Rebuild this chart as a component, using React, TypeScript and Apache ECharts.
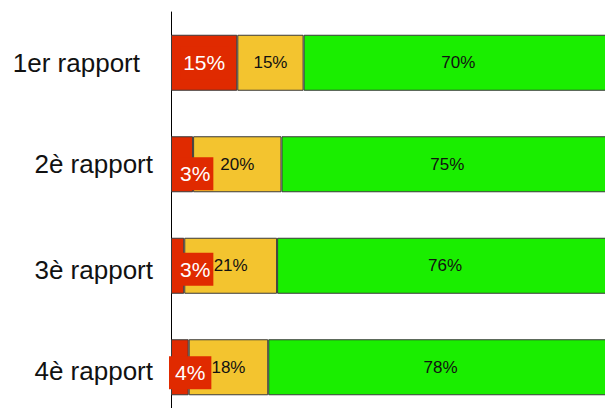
import React, { useEffect, useRef } from "react";
import * as echarts from "echarts";

const categories = ["1er rapport", "2è rapport", "3è rapport", "4è rapport"];
const redValues = [15, 5, 3, 4];
const redLabels = ["15%", "3%", "3%", "4%"];
const yellowValues = [15, 20, 21, 18];
const yellowLabels = ["15%", "20%", "21%", "18%"];
const greenValues = [70, 75, 76, 78];
const greenLabels = ["70%", "75%", "76%", "78%"];

const RED = "#e02a00";
const YELLOW = "#f3c42f";
const GREEN = "#1aee00";
const redLabelPos: any[] = ["inside", [6, 21], [6, 15], [-2, 17]];
const redLabelPad: any[] = [[6, 3], [6, 3], [6, 3], [6, 6]];

export default function App() {
  const ref = useRef<HTMLDivElement>(null);
  useEffect(() => {
    if (!ref.current) return;
    const chart = echarts.init(ref.current, undefined, { renderer: "svg" });
    const font = "Liberation Sans, Arial, sans-serif";
    const border = { borderColor: "#3a3a3a", borderWidth: 1 };
    const lab = (pad: number[]) => ({ fontFamily: font, fontSize: 26, color: "#111", padding: pad });
    chart.setOption({
      animation: false,
      grid: { left: 171, top: 12, width: 442, height: 406 },
      xAxis: { type: "value", min: 0, max: 100, show: false },
      yAxis: {
        type: "category",
        inverse: true,
        data: categories,
        axisLine: { show: true, lineStyle: { color: "#000", width: 1 } },
        axisTick: { show: false },
        axisLabel: {
          margin: 18,
          fontFamily: font,
          fontSize: 26,
          color: "#111",
          formatter: (v: string, i: number) => `{r${i}|${v}}`,
          rich: {
            r0: lab([0, 13, 0, 0]),
            r1: lab([0, 0, 0, 0]),
            r2: lab([8, 0, 0, 0]),
            r3: lab([8, 0, 0, 0]),
          },
        },
      },
      series: [
        {
          type: "bar",
          stack: "t",
          barWidth: 56,
          itemStyle: { color: RED, ...border },
          data: redValues.map((v, i) => ({
            value: v,
            label: {
              show: true,
              position: redLabelPos[i],
              align: i === 0 ? "center" : "left",
              verticalAlign: i === 0 ? "middle" : "top",
              formatter: redLabels[i],
              color: "#fff",
              fontFamily: font,
              fontSize: 21,
              lineHeight: 21,
              backgroundColor: RED,
              padding: redLabelPad[i],
            },
          })),
        },
        {
          type: "bar",
          stack: "t",
          barWidth: 56,
          itemStyle: { color: YELLOW, ...border },
          label: {
            show: true,
            position: "inside",
            color: "#111",
            fontFamily: font,
            fontSize: 17,
            formatter: (p: any) => yellowLabels[p.dataIndex],
          },
          data: yellowValues,
        },
        {
          type: "bar",
          stack: "t",
          barWidth: 56,
          itemStyle: { color: GREEN, ...border },
          label: {
            show: true,
            position: "inside",
            color: "#111",
            fontFamily: font,
            fontSize: 17,
            formatter: (p: any) => greenLabels[p.dataIndex],
          },
          data: greenValues,
        },
      ],
    });
    return () => chart.dispose();
  }, []);
  return (
    <div style={{ position: "absolute", left: 0, top: 0, width: 605, height: 408, overflow: "hidden", background: "#fff" }}>
      <div ref={ref} style={{ width: 620, height: 420 }} />
    </div>
  );
}
